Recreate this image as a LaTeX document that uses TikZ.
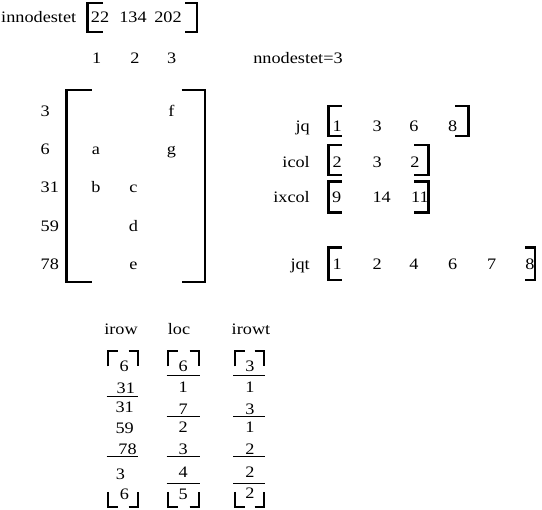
\documentclass[tikz,border=0pt]{standalone}
\usepackage{fontspec}
\setmainfont{Liberation Serif}[FakeStretch=1.14]
\begin{document}
\begin{tikzpicture}[x=1pt,y=-1pt,
  every node/.style={inner sep=0pt, font=\fontsize{16}{18}\selectfont},
  val/.style={anchor=base},
  lab/.style={anchor=base east},
  brk/.style={line width=2.6pt, line cap=butt, line join=miter},
  hrule/.style={line width=0.9pt}]
\useasboundingbox (0,0) rectangle (542,510);
% top array
\node[anchor=base west] (innod) at (1,23) {innodestet};
\node[val] (t1) at (100,23) {22};
\node[val] (t2) at (133,23) {134};
\node[val] (t3) at (168,23) {202};
\draw[brk] (103,3) -- (87.5,3) -- (87.5,32) -- (103,32);
\draw[brk] (185,3) -- (197,3) -- (197,32) -- (185,32);
\node[val] (c1) at (96.7,64) {1};
\node[val] (c2) at (135,64) {2};
\node[val] (c3) at (171.7,64) {3};
\node[val] (nn) at (298,64) {nnodestet=3};
% matrix
\node[anchor=base west] (r1) at (40.5,117) {3};
\node[anchor=base west] (r2) at (40.5,155) {6};
\node[anchor=base west] (r3) at (40.5,193) {31};
\node[anchor=base west] (r4) at (40.5,232) {59};
\node[anchor=base west] (r5) at (40.5,270) {78};
\node[val] (ma) at (96,155) {a};
\node[val] (mb) at (96,193) {b};
\node[val] (mc) at (133.5,193) {c};
\node[val] (md) at (133.5,232) {d};
\node[val] (me) at (133.5,270) {e};
\node[val] (mf) at (171.5,117) {f};
\node[val] (mg) at (171.5,155) {g};
\draw[brk] (91.7,90) -- (66.7,90) -- (66.7,282) -- (91.7,282);
\draw[brk] (181.7,90) -- (205,90) -- (205,282) -- (181.7,282);
% right arrays
\node[lab] (ljq) at (310,131.7) {jq};
\node[val] (jq1) at (337.3,131.7) {1};
\node[val] (jq2) at (377.3,131.7) {3};
\node[val] (jq3) at (414,131.7) {6};
\node[val] (jq4) at (452.7,131.7) {8};
\draw[brk] (341.7,106) -- (328.3,106) -- (328.3,136) -- (341.7,136);
\draw[brk] (455,106) -- (468.3,106) -- (468.3,136) -- (455,136);
\node[lab] (licol) at (310,168) {icol};
\node[val] (ic1) at (337.3,168) {2};
\node[val] (ic2) at (377.3,168) {3};
\node[val] (ic3) at (415,168) {2};
\draw[brk] (341.7,145) -- (328.3,145) -- (328.3,175) -- (341.7,175);
\draw[brk] (414,145) -- (428.3,145) -- (428.3,175) -- (414,175);
\node[lab] (lixcol) at (310,203) {ixcol};
\node[val] (ix1) at (336.7,203) {9};
\node[val] (ix2) at (381.7,203) {14};
\node[val] (ix3) at (420,203) {11};
\draw[brk] (341.7,181.7) -- (328.3,181.7) -- (328.3,212.7) -- (341.7,212.7);
\draw[brk] (414,181.7) -- (428.3,181.7) -- (428.3,212.7) -- (414,212.7);
\node[lab] (ljqt) at (310,270) {jqt};
\node[val] (jt1) at (337.3,270) {1};
\node[val] (jt2) at (377.3,270) {2};
\node[val] (jt3) at (414,270) {4};
\node[val] (jt4) at (452.7,270) {6};
\node[val] (jt5) at (491.7,270) {7};
\node[val] (jt6) at (530,270) {8};
\draw[brk] (341.7,247.3) -- (328.3,247.3) -- (328.3,280) -- (341.7,280);
\draw[brk] (525,247.3) -- (535,247.3) -- (535,280) -- (525,280);
% bottom columns
\node[val] (lirow) at (121,335) {irow};
\node[val] (lloc) at (179,335) {loc};
\node[val] (lirowt) at (251,335) {irowt};
% irow
\node[val] (ir1) at (124.3,371.7) {6};
\node[val] (ir2) at (125.8,394) {31};
\node[val] (ir3) at (124.7,412.7) {31};
\node[val] (ir4) at (124.7,433.3) {59};
\node[val] (ir5) at (127.5,455) {78};
\node[val] (ir6) at (120.5,480) {3};
\node[val] (ir7) at (124.5,500) {6};
\draw[hrule] (106.7,396.7) -- (138,396.7);
\draw[hrule] (106.7,456.7) -- (138,456.7);
\draw[brk] (108,366.5) -- (108,351) -- (117.5,351);
\draw[brk] (128.5,351) -- (138,351) -- (138,366.5);
\draw[brk] (108,492) -- (108,507) -- (117.5,507);
\draw[brk] (128.5,507) -- (138,507) -- (138,492);
% loc
\node[val] (lo1) at (183.3,371.7) {6};
\node[val] (lo2) at (183.3,393) {1};
\node[val] (lo3) at (183.3,415) {7};
\node[val] (lo4) at (183.3,433) {2};
\node[val] (lo5) at (183.3,455) {3};
\node[val] (lo6) at (183.3,478) {4};
\node[val] (lo7) at (183.3,500) {5};
\foreach \yy in {375,416.7,456.7,483.3} \draw[hrule] (166.7,\yy) -- (200,\yy);
\draw[brk] (168,366.5) -- (168,351) -- (177.5,351);
\draw[brk] (189.5,351) -- (199,351) -- (199,366.5);
\draw[brk] (168,492) -- (168,507) -- (177.5,507);
\draw[brk] (189.5,507) -- (199,507) -- (199,492);
% irowt
\node[val] (it1) at (250,371.7) {3};
\node[val] (it2) at (250,393) {1};
\node[val] (it3) at (250,415) {3};
\node[val] (it4) at (250,433) {1};
\node[val] (it5) at (250,455) {2};
\node[val] (it6) at (250,478) {2};
\node[val] (it7) at (250,499) {2};
\foreach \yy in {375,416.7,456.7,483.3} \draw[hrule] (233,\yy) -- (265,\yy);
\draw[brk] (235,366.5) -- (235,351) -- (244.5,351);
\draw[brk] (254.5,351) -- (264,351) -- (264,366.5);
\draw[brk] (235,492) -- (235,507) -- (244.5,507);
\draw[brk] (254.5,507) -- (264,507) -- (264,492);
\end{tikzpicture}
\end{document}
